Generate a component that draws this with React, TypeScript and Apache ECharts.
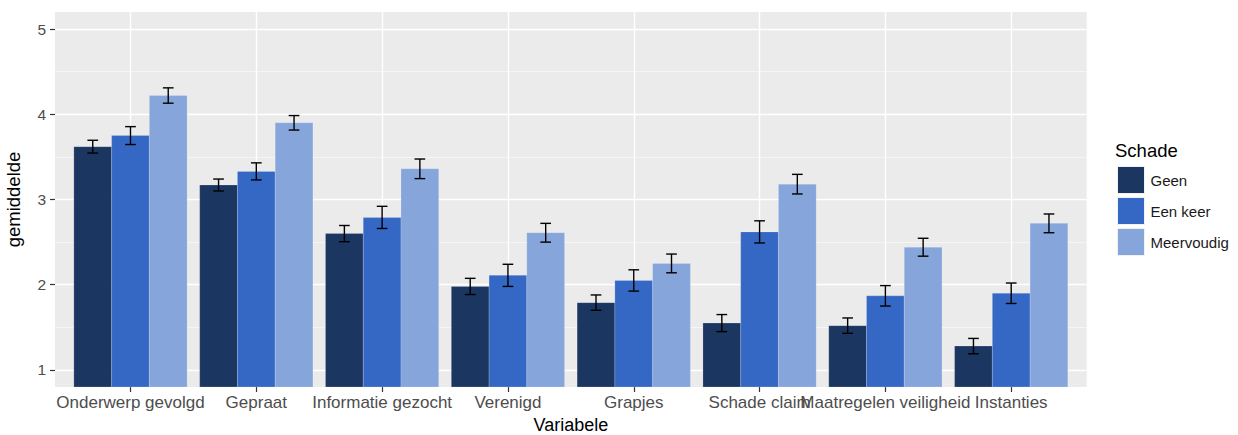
import * as echarts from 'echarts';
import { useEffect, useRef } from 'react';

const categories = [
  'Onderwerp gevolgd',
  'Gepraat',
  'Informatie gezocht',
  'Verenigd',
  'Grapjes',
  'Schade claim',
  'Maatregelen veiligheid',
  'Instanties',
];
const groups = ['Geen', 'Een keer', 'Meervoudig'];
const colors = ['#1b3660', '#3568c4', '#86a5db'];

// means per group
const geen = [3.62, 3.17, 2.6, 1.98, 1.79, 1.55, 1.52, 1.28];
const eenKeer = [3.75, 3.33, 2.79, 2.11, 2.05, 2.62, 1.87, 1.9];
const meervoudig = [4.22, 3.9, 3.36, 2.61, 2.25, 3.18, 2.44, 2.72];

// half-widths of the error bars
const geenErr = [0.075, 0.07, 0.095, 0.095, 0.09, 0.1, 0.09, 0.09];
const eenKeerErr = [0.105, 0.1, 0.13, 0.13, 0.125, 0.13, 0.12, 0.12];
const meervoudigErr = [0.09, 0.085, 0.115, 0.11, 0.11, 0.115, 0.105, 0.11];

const yTicks = [1, 2, 3, 4, 5];
const yMinor = [1.5, 2.5, 3.5, 4.5];

const means = [geen, eenKeer, meervoudig];
const errs = [geenErr, eenKeerErr, meervoudigErr];

const FONT = '"Liberation Sans", Arial, Helvetica, sans-serif';
const BAR = 0.3; // width of one bar in category units
const CAP = 0.085;

export default function App() {
  const ref = useRef<HTMLDivElement>(null);

  useEffect(() => {
    document.body.style.margin = '0';
    const chart = echarts.init(ref.current!, undefined, { renderer: 'svg' });
    const xPos = categories.map((_, i) => i + 1);

    const series = groups.map((name, g) => ({
      type: 'custom',
      name,
      itemStyle: { color: colors[g] },
      encode: { x: 0, y: 1 },
      data: xPos.map((x, i) => [x + (g - 1) * BAR, means[g][i], errs[g][i]]),
      renderItem: (_params: unknown, api: any) => {
        const x = api.value(0);
        const v = api.value(1);
        const e = api.value(2);
        const tl = api.coord([x - BAR / 2, v]);
        const br = api.coord([x + BAR / 2, 0.8]);
        const hi = api.coord([x, v + e]);
        const lo = api.coord([x, v - e]);
        const capL = api.coord([x - CAP / 2, v])[0];
        const capR = api.coord([x + CAP / 2, v])[0];
        const err = { stroke: '#000', lineWidth: 1.4 };
        return {
          type: 'group',
          children: [
            {
              type: 'rect',
              shape: { x: tl[0], y: tl[1], width: br[0] - tl[0], height: br[1] - tl[1] },
              style: { fill: api.visual('color'), stroke: 'rgba(255,255,255,0.18)', lineWidth: 1 },
            },
            { type: 'line', shape: { x1: hi[0], y1: hi[1], x2: lo[0], y2: lo[1] }, style: err },
            { type: 'line', shape: { x1: capL, y1: hi[1], x2: capR, y2: hi[1] }, style: err },
            { type: 'line', shape: { x1: capL, y1: lo[1], x2: capR, y2: lo[1] }, style: err },
          ],
        };
      },
    }));

    chart.setOption({
      animation: false,
      textStyle: { fontFamily: FONT },
      title: {
        text: 'Schade',
        left: 1115,
        top: 141,
        padding: 0,
        textStyle: { fontFamily: FONT, fontSize: 18.5, fontWeight: 'normal', color: '#000' },
      },
      legend: {
        orient: 'vertical',
        left: 1117,
        top: 166,
        padding: 0,
        itemWidth: 27,
        itemHeight: 27,
        itemGap: 3,
        icon: 'rect',
        data: groups,
        itemStyle: { borderColor: '#f2f2f2', borderWidth: 1 },
        textStyle: { fontFamily: FONT, fontSize: 15, color: '#1a1a1a', padding: [0, 0, 0, 1] },
      },
      grid: {
        left: 55,
        top: 12,
        width: 1031.7,
        height: 375,
        show: true,
        backgroundColor: '#ebebeb',
        borderWidth: 0,
        containLabel: false,
        outerBoundsMode: 'none',
      },
      xAxis: {
        type: 'value',
        min: 0.4,
        max: 8.6,
        name: 'Variabele',
        nameLocation: 'middle',
        nameGap: 29,
        nameTextStyle: { fontFamily: FONT, fontSize: 18, color: '#000', lineHeight: 18 },
        axisLine: { show: false },
        axisTick: { show: true, customValues: xPos, length: 5, lineStyle: { color: '#333', width: 1.2 } },
        axisLabel: {
          customValues: xPos,
          formatter: (v: number) => categories[Math.round(v) - 1] ?? '',
          fontFamily: FONT,
          fontSize: 17,
          color: '#4d4d4d',
          margin: 7,
          hideOverlap: false,
        },
        splitLine: { show: true, lineStyle: { color: '#ffffff', width: 1.4 } },
      },
      yAxis: [
        {
          type: 'value',
          min: 0.8,
          max: 5.2,
          name: 'gemiddelde',
          nameLocation: 'middle',
          nameGap: 32,
          nameRotate: 90,
          nameTextStyle: { fontFamily: FONT, fontSize: 18.5, color: '#000' },
          axisLine: { show: false },
          axisTick: { show: true, customValues: yTicks, length: 5, lineStyle: { color: '#333', width: 1.2 } },
          axisLabel: { customValues: yTicks, fontFamily: FONT, fontSize: 15.5, color: '#4d4d4d', margin: 9 },
          splitLine: { show: true, lineStyle: { color: '#ffffff', width: 1.4 } },
        },
        {
          type: 'value',
          min: 0.8,
          max: 5.2,
          position: 'left',
          axisLine: { show: false },
          axisTick: { show: false, customValues: yMinor },
          axisLabel: { show: false, customValues: yMinor },
          splitLine: { show: true, lineStyle: { color: '#f7f7f7', width: 0.8 } },
        },
      ],
      series,
    });

    return () => chart.dispose();
  }, []);

  return <div ref={ref} style={{ width: 1238, height: 435 }} />;
}
